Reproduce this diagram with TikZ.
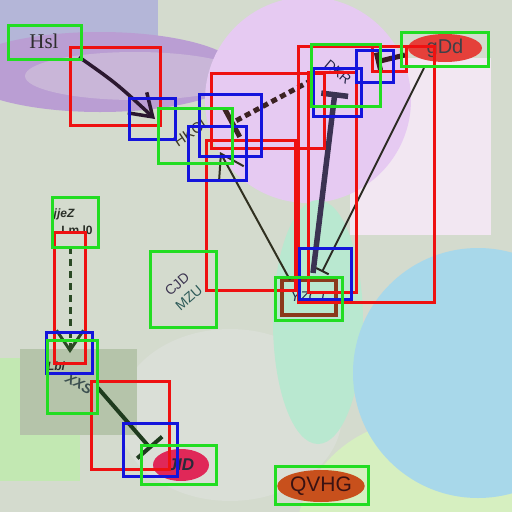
\documentclass[tikz,border=0pt]{standalone}
\usepackage{fontspec}
\newfontfamily\sansf{Liberation Sans}
\newfontfamily\seriff{Liberation Serif}
\usetikzlibrary{arrows.meta,shapes.geometric}
\definecolor{bgc}{HTML}{D4DBCE}
\definecolor{lavb}{HTML}{B4B6D8}
\definecolor{purp}{HTML}{BA9ED3}
\definecolor{purl}{HTML}{C9B6D8}
\definecolor{pinkc}{HTML}{E6CAF2}
\definecolor{pinkw}{HTML}{F2E7F2}
\definecolor{mint}{HTML}{B9E8D0}
\definecolor{skyc}{HTML}{A8D8EA}
\definecolor{ygre}{HTML}{D6EFC0}
\definecolor{grgr}{HTML}{B5C4AA}
\definecolor{lgre}{HTML}{C2E8B2}
\definecolor{lgray}{HTML}{DADFD7}
\definecolor{boxr}{HTML}{EE1111}
\definecolor{boxg}{HTML}{22DD22}
\definecolor{boxb}{HTML}{1414DC}
\definecolor{ellr}{HTML}{E5403A}
\definecolor{ellc}{HTML}{E02858}
\definecolor{ello}{HTML}{C8501C}
\definecolor{brn}{HTML}{8B3A1C}
\definecolor{cjdc}{HTML}{3C3450}
\definecolor{mzuc}{HTML}{2C5A58}
\begin{document}
\begin{tikzpicture}[x=1pt,y=-1pt,
  rbox/.style={draw=boxr,line width=3pt},
  gbox/.style={draw=boxg,line width=3pt},
  bbox/.style={draw=boxb,line width=3pt},
  lbl/.style={inner sep=1pt,text depth=0pt},
  ovalnode/.style={ellipse,inner sep=0pt,font=\sansf\fontsize{20}{20}\selectfont}]
\useasboundingbox (0,0) rectangle (512,512);
% background
\fill[bgc] (0,0) rectangle (512,512);
\fill[lavb] (0,0) rectangle (158,96);
\fill[purp] (100,72) ellipse [x radius=140, y radius=40];
\fill[purl] (135,76) ellipse [x radius=110, y radius=24];
\fill[pinkw] (350,58) rectangle (491,235);
\fill[pinkc] (308,100) circle [radius=103];
\fill[lgray] (230,415) ellipse [x radius=112, y radius=86];
\fill[mint] (318,322) ellipse [x radius=45, y radius=122];
\fill[ygre] (420,545) circle [radius=125];
\fill[skyc] (478,373) circle [radius=125];
\fill[lgre] (0,358) rectangle (80,481);
\fill[grgr] (20,349) rectangle (137,435);
% nodes
\node[lbl,text=black!82,font=\seriff\fontsize{21}{21}\selectfont] (hsl) at (44,41) {Hsl};
\node[lbl,text={rgb,255:red,58;green,54;blue,38},font=\sansf\fontsize{15}{15}\selectfont,rotate=34] (hkci) at (190,133) {HKCI};
\node[lbl,text={rgb,255:red,37;green,37;blue,74},font=\sansf\fontsize{14}{14}\selectfont,rotate=-40] (dkr) at (338,72) {DKR};
\node[ovalnode,fill=ellr,minimum width=74pt,minimum height=28pt,text={rgb,255:red,64;green,64;blue,72}] (gdd) at (445,48) {gDd};
\node[lbl,text={rgb,255:red,42;green,48;blue,40},font=\sansf\bfseries\itshape\fontsize{12}{12}\selectfont] (jjez) at (64,213) {jjeZ};
\node[lbl,text={rgb,255:red,42;green,48;blue,40},font=\sansf\bfseries\fontsize{12}{12}\selectfont] (lm) at (77,230) {Lm l0};
\node[lbl,align=center,font=\sansf\fontsize{14}{14}\selectfont,rotate=41] (cjd) at (183,291) {\textcolor{cjdc}{CJD}\\[4pt]\textcolor{mzuc}{MZU}};
\node[draw=brn,line width=4pt,minimum width=54pt,minimum height=35pt,inner sep=0pt,text={rgb,255:red,30;green,42;blue,74},font=\sansf\itshape\fontsize{14}{14}\selectfont] (yzct) at (309,297) {YZCT};
\node[lbl,text={rgb,255:red,40;green,48;blue,44},font=\sansf\bfseries\itshape\fontsize{12}{12}\selectfont] (lblx) at (56,366) {Lbl};
\node[lbl,text={rgb,255:red,60;green,80;blue,80},font=\sansf\bfseries\itshape\fontsize{14}{14}\selectfont,rotate=-30] (xxs) at (79,384) {XXS};
\node[ovalnode,fill=ellc,minimum width=56pt,minimum height=32pt,text={rgb,255:red,42;green,42;blue,58},font=\sansf\bfseries\itshape\fontsize{17}{17}\selectfont] (jid) at (181,465) {JID};
\node[ovalnode,fill=ello,minimum width=80pt,minimum height=32pt,text={rgb,255:red,58;green,18;blue,18},font=\sansf\fontsize{21}{21}\selectfont] (qvhg) at (321,486) {QVHG};
% connectors
\draw[line width=3.5pt,draw={rgb,255:red,43;green,24;blue,48},-{Straight Barb[length=21pt,width=28pt]}]
  ([shift={(35,16)}]hsl.center) .. controls ([shift={(72,42)}]hsl.center) .. ([shift={(-35,-14)}]hkci.center);
\draw[line width=5pt,draw={rgb,255:red,60;green,34;blue,34},dash pattern=on 6pt off 4pt,-{Bar[width=32pt]}]
  ([shift={(-26,8)}]dkr.center) -- ([shift={(40,-9)}]hkci.center);
\draw[line width=2pt,draw={rgb,255:red,48;green,48;blue,32},-{Straight Barb[length=22pt,width=28pt]}]
  ([shift={(-19,-17)}]yzct.center) -- ([shift={(30,19)}]hkci.center);
\draw[line width=5.5pt,draw={rgb,255:red,59;green,51;blue,82},{Bar[width=27pt]}-]
  ([shift={(-3,20)}]dkr.center) -- ([shift={(4,-24)}]yzct.center);
\draw[line width=2pt,draw={rgb,255:red,42;green,42;blue,34},-{Bar[width=14pt]}]
  ([shift={(-21,20)}]gdd.center) -- ([shift={(13,-25)}]yzct.center);
\draw[line width=5pt,draw={rgb,255:red,58;green,26;blue,34},-{Bar[width=18pt]}]
  ([shift={(-40,7)}]gdd.center) -- ([shift={(38,-10)}]dkr.center);
\draw[line width=3pt,draw={rgb,255:red,43;green,74;blue,37},dash pattern=on 7pt off 5pt,-{Straight Barb[length=20pt,width=27pt]}]
  ([shift={(-7,17)}]lm.center) -- ([shift={(14,-13)}]lblx.center);
\draw[line width=4pt,draw={rgb,255:red,31;green,59;blue,30},-{Bar[width=33pt]}]
  ([shift={(19,4)}]xxs.center) -- ([shift={(-30,-16)}]jid.center);
% annotation boxes
\draw[rbox] (70,47) rectangle (160,125);
\draw[rbox] (211,73) rectangle (324,148);
\draw[rbox] (206,140) rectangle (295,290);
\draw[rbox] (298,46) rectangle (434,302);
\draw[rbox] (308,72) rectangle (356,292);
\draw[rbox] (372,46) rectangle (406,71);
\draw[rbox] (54,232) rectangle (85,363);
\draw[rbox] (91,381) rectangle (169,469);
\draw[bbox] (129,98) rectangle (175,139);
\draw[bbox] (199,94) rectangle (261,156);
\draw[bbox] (188,126) rectangle (246,180);
\draw[bbox] (313,68) rectangle (361,116);
\draw[bbox] (356,50) rectangle (393,82);
\draw[bbox] (299,248) rectangle (351,299);
\draw[bbox] (46,332) rectangle (92,373);
\draw[bbox] (123,423) rectangle (177,476);
\draw[gbox] (8,25) rectangle (81,59);
\draw[gbox] (158,108) rectangle (232,163);
\draw[gbox] (311,44) rectangle (380,106);
\draw[gbox] (401,32) rectangle (488,66);
\draw[gbox] (52,197) rectangle (98,247);
\draw[gbox] (150,251) rectangle (216,327);
\draw[gbox] (275,277) rectangle (342,320);
\draw[gbox] (47,340) rectangle (97,413);
\draw[gbox] (141,445) rectangle (216,484);
\draw[gbox] (275,466) rectangle (368,504);
\end{tikzpicture}
\end{document}
